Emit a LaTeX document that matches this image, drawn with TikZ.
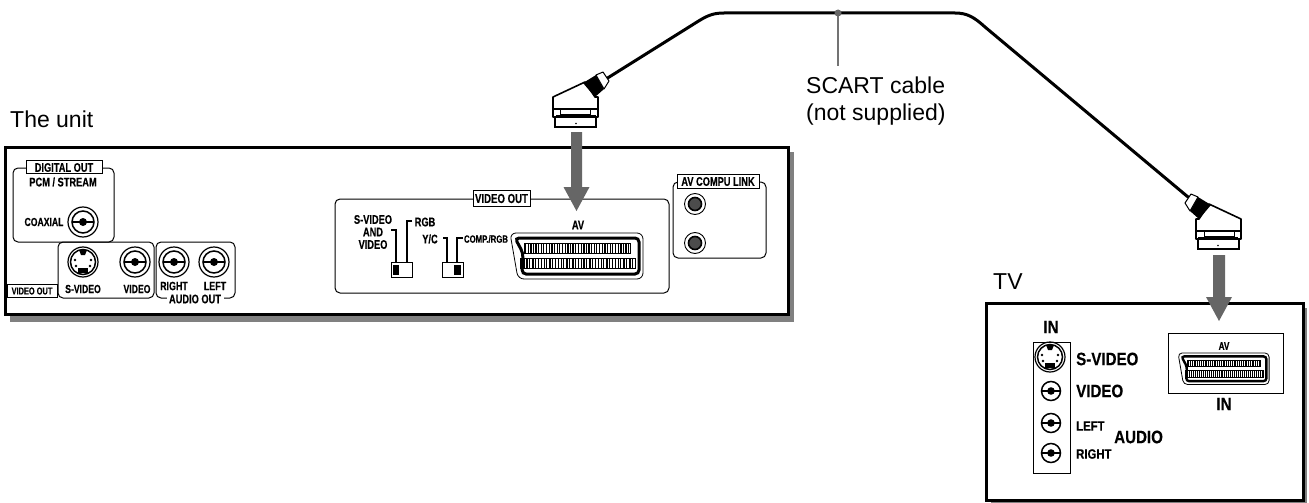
\documentclass[tikz,border=0pt]{standalone}
\usepackage{fontspec}
\setmainfont{Liberation Sans}
\newfontfamily\condfont[FakeStretch=0.74,BoldFeatures={FakeBold=0.35}]{Liberation Sans}
\newfontfamily\condwide[FakeStretch=0.84,BoldFeatures={FakeBold=0.35}]{Liberation Sans}
\newcommand{\sz}[1]{\fontsize{#1}{#1}\selectfont}
\tikzset{
  x=1pt,y=-1pt,
  panel/.style={draw=black,line width=1pt,rounded corners=5pt},
  unitbox/.style={draw=black,fill=white,line width=3pt},
  shade/.style={fill=black!50},
  tagbox/.style={draw=black,fill=white,line width=1pt},
  lab/.style={inner sep=0pt,font=\condfont\bfseries\sz{12.5}},
  big/.style={inner sep=0pt,anchor=west,font=\condwide\bfseries\sz{18}},
  note/.style={inner sep=0pt,anchor=base west,font=\sz{23}},
  flow/.style={fill=black!60},
  cablewire/.style={draw=black,line width=3pt,line cap=round},
}
\newcommand{\rcajack}[2]{%
  \coordinate (#1) at #2;
  \draw[line width=1.2pt] (#1) circle[radius=15];
  \draw[line width=1.5pt] (#1) circle[radius=11];
  \fill (#1) circle[radius=4];
  \draw[line width=1.2pt] ([xshift=-11]#1) -- ([xshift=11]#1);
}
\newcommand{\tvrca}[1]{%
  \draw[line width=1.5pt] (#1) circle[radius=9.5];
  \fill (#1) circle[radius=3.8];
  \draw[line width=1.2pt] ([xshift=-9.5]#1) -- ([xshift=9.5]#1);
}
\newcommand{\sjack}[1]{%
  \draw[line width=1.2pt] (#1) circle[radius=15];
  \draw[line width=1.5pt] (#1) circle[radius=12.5];
  \fill ([xshift=-4,yshift=12]#1) -- ([xshift=4,yshift=12]#1) -- ([xshift=2,yshift=7]#1) -- ([xshift=-2,yshift=7]#1) -- cycle;
  \fill ([xshift=-5,yshift=-6]#1) rectangle ([xshift=5,yshift=-11]#1);
  \foreach \dx/\dy in {-8/2,8/2,-7/-4,7/-4}{\fill ([xshift=\dx,yshift=\dy]#1) circle[radius=1.4];}
}
\newcommand{\scartsocket}[5]{%
  \begin{scope}[shift={(#1,#2)},scale=#3]
    \draw[line width=0.8pt,rounded corners=#3*6pt] (0,0) -- (133,0) -- (133,46) -- (8,46) -- cycle;
    \draw[line width=#4,rounded corners=#3*4pt] (5,5) -- (129,5) -- (129,41) -- (12,41) -- (13,20) -- cycle;
    \draw[line width=0.6pt] (14,10) rectangle (120,20);
    \draw[line width=0.6pt] (10,25) rectangle (125,35);
    \foreach \i in {0,...,19}{
      \draw[line width=#5] ({15.5+\i*5.3},10) -- ({15.5+\i*5.3},20);
      \draw[line width=#5*0.55] ({18+\i*5.3},10) -- ({18+\i*5.3},20);
      \draw[line width=#5] ({11.5+\i*5.7},25) -- ({11.5+\i*5.7},35);
      \draw[line width=#5*0.55] ({14+\i*5.7},25) -- ({14+\i*5.7},35);
    }
  \end{scope}}
\newcommand{\scartplug}{%
  \draw[fill=white,line width=1.6pt,line join=round] (553,97) -- (585,82) -- (595,97) -- (598,97) -- (598,117) -- (553,117) -- cycle;
  \draw[fill=white,line width=1.2pt] (555,117) rectangle (596,127);
  \fill (576,123.5) circle[radius=0.9];
  \draw[line width=1.2pt] (553,109) -- (598,109);
  \draw[line width=0.8pt] (560,109) rectangle (590,114);
  \fill (556,115) rectangle (596,117.5);
  \fill (583,83) -- (596,75) -- (604,89) -- (595,97) -- cycle;
  \draw[fill=white,line width=1pt,line join=round] (596,75) -- (603,72) -- (609,81) -- (604,89) -- cycle;
}
\begin{document}
\begin{tikzpicture}
\useasboundingbox (0,0) rectangle (1309,503);
% ---------- unit
\fill[shade] (10,152) rectangle (794,322);
\draw[unitbox] (5,147) rectangle (788,314);
\node[note] (unitlab) at (10,127) {The unit};
% digital out
\draw[panel] (13,168) rectangle (114,242);
\node[tagbox,minimum width=76pt,minimum height=12.5pt,inner sep=0pt] (digtag) at (64,167) {};
\node[lab] (digtxt) at (64,167.5) {DIGITAL OUT};
\node[lab] (pcm) at (63,182) {PCM / STREAM};
\node[lab,font=\condfont\bfseries\sz{11.7}] (coax) at (44,222) {COAXIAL};
\rcajack{jcoax}{(83,222)}
% s-video group
\draw[panel] (58,242) rectangle (154,298);
\draw[panel] (156,242) rectangle (235,298);
\fill[white] (167,294) rectangle (224,302);
\coordinate (js) at (83,262);
\sjack{js}
\rcajack{jvid}{(135,262)}
\rcajack{jright}{(174,262)}
\rcajack{jleft}{(214,262)}
\node[lab,font=\condfont\bfseries\sz{11.7}] (tsv) at (83,289) {S-VIDEO};
\node[lab,font=\condfont\bfseries\sz{11.7}] (tvid) at (137,289) {VIDEO};
\node[lab,font=\condfont\bfseries\sz{12}] (trt) at (174,286) {RIGHT};
\node[lab,font=\condfont\bfseries\sz{12}] (tlf) at (215,286) {LEFT};
\node[lab] (taudio) at (195,299) {AUDIO OUT};
\node[tagbox,minimum width=50pt,minimum height=13pt,inner sep=0pt] (vtag) at (32,290.5) {};
\node[lab,font=\condfont\bfseries\sz{10}] (vtxt) at (32,291) {VIDEO OUT};
% video out panel
\draw[panel] (335,199) rectangle (669,293);
\node[tagbox,minimum width=57pt,minimum height=16pt,inner sep=0pt] (vo) at (501.5,198) {};
\node[lab,font=\condfont\bfseries\sz{13}] (votxt) at (501.5,198.5) {VIDEO OUT};
\node[lab] (av1) at (578,225) {AV};
\node[lab,align=center,font=\condfont\bfseries\sz{12.5}] (svav) at (373,232) {S-VIDEO\\AND\\VIDEO};
\node[lab] (rgb) at (425,222) {RGB};
\node[lab] (yc) at (430,239) {Y/C};
\node[lab,font=\condfont\bfseries\sz{10.5}] (comp) at (486,239) {COMP./RGB};
% switches
\node[tagbox,minimum width=21pt,minimum height=15pt,inner sep=0pt] (sw1) at (401.5,269.5) {};
\fill (392.5,264.5) rectangle (399,275);
\node[tagbox,minimum width=21pt,minimum height=15pt,inner sep=0pt] (sw2) at (452.5,269.5) {};
\fill (454,264.5) rectangle (461,275);
\draw[line width=1.8pt] (391,230) -- (396,230) -- (396,262);
\draw[line width=1.8pt] (412,221) -- (407,221) -- (407,262);
\draw[line width=1.8pt] (443,238) -- (447,238) -- (447,262);
\draw[line width=1.8pt] (463,238) -- (457,238) -- (457,262);
\scartsocket{510}{233}{1}{3pt}{1.5pt}
% av compu link
\draw[panel] (673,182) rectangle (766,258);
\node[tagbox,minimum width=82pt,minimum height=14pt,inner sep=0pt] (avc) at (718,181) {};
\node[lab] (avctxt) at (718,181.5) {AV COMPU LINK};
\foreach \nm/\yy in {c1/204,c2/243}{
  \coordinate (\nm) at (695,\yy);
  \draw[line width=0.9pt] (\nm) circle[radius=10.5];
  \draw[line width=1.6pt,fill=black!70] (\nm) circle[radius=6.5];
}
% ---------- TV
\fill[shade] (991,308) rectangle (1307,503);
\draw[unitbox] (986,303) rectangle (1303,500);
\node[note] (tvlab) at (993,289) {TV};
\node[big,anchor=center] (in1) at (1051,327) {IN};
\draw[line width=0.8pt] (1033,342) rectangle (1070,473);
\coordinate (ts) at (1050,357);
\sjack{ts}
\coordinate (tv1) at (1051,391); \tvrca{tv1}
\coordinate (tv2) at (1051,423); \tvrca{tv2}
\coordinate (tv3) at (1051,453); \tvrca{tv3}
\node[big] (tsv2) at (1076,359) {S-VIDEO};
\node[big] (tvi2) at (1076,391) {VIDEO};
\node[inner sep=0pt,anchor=west,font=\condwide\bfseries\sz{13.5}] (tlf2) at (1076,426) {LEFT};
\node[inner sep=0pt,anchor=west,font=\condwide\bfseries\sz{13.5}] (trt2) at (1076,454) {RIGHT};
\node[big] (aud) at (1114,437) {AUDIO};
\draw[line width=0.8pt] (1168,333) rectangle (1283,393);
\node[lab,font=\condfont\bfseries\sz{11}] (av2) at (1224,346) {AV};
\node[big,anchor=center] (in2) at (1224,404) {IN};
\scartsocket{1178}{353}{0.685}{2.4pt}{1pt}
% ---------- cable
\coordinate (cs) at (606,79);
\coordinate (ce) at (1188,197);
\coordinate (tap) at (838,13);
\coordinate (tapend) at (838,66);
\draw[cablewire] (cs) -- (697,22) .. controls (708,15) and (714,13) .. (724,13) -- (955,13) .. controls (967,13) and (974,17) .. (985,27) -- (ce);
\draw[line width=2pt,draw=black!55] (tap) -- (tapend);
\fill[black!60] (tap) circle[radius=3.5];
\node[note] (sc1) at (798,93) {\hspace{8pt}SCART cable};
\node[note] (sc2) at (798,120) {\hspace{8pt}(not supplied)};
% plugs
\scartplug
\begin{scope}[shift={(1794,122)},xscale=-1]
\scartplug
\end{scope}
% arrows
\coordinate (a1s) at (576.5,132);
\coordinate (a1e) at (576.5,211);
\coordinate (a2s) at (1219,255);
\coordinate (a2e) at (1219,321);
\fill[flow] ([xshift=-5.5]a1s) -- ([xshift=5.5]a1s) -- ([xshift=5.5,yshift=24]a1e) -- ([xshift=13,yshift=24]a1e) -- (a1e) -- ([xshift=-13,yshift=24]a1e) -- ([xshift=-5.5,yshift=24]a1e) -- cycle;
\fill[flow] ([xshift=-6]a2s) -- ([xshift=6]a2s) -- ([xshift=6,yshift=24]a2e) -- ([xshift=13,yshift=24]a2e) -- (a2e) -- ([xshift=-13,yshift=24]a2e) -- ([xshift=-6,yshift=24]a2e) -- cycle;
\end{tikzpicture}
\end{document}
